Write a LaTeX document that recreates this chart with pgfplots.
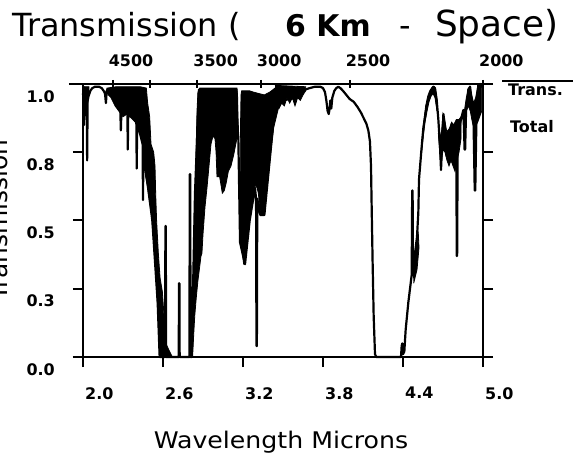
\documentclass[border=0pt]{standalone}
\usepackage{fontspec}
\setmainfont{DejaVu Sans}
\usepackage{graphicx}
\usepackage{pgfplots}
\pgfplotsset{compat=1.18}
\begin{document}
\begin{tikzpicture}
\begin{axis}[
  at={(0,0)}, anchor=south west,
  scale only axis, width=400bp, height=273bp,
  xmin=2, xmax=5, ymin=0, ymax=1,
  axis line style={line width=2bp},
  every tick/.style={black, line width=2bp},
  major tick length=10bp,
  tick align=outside,
  xtick={2,2.6,3.2,3.8,4.4,5},
  xticklabels={2.0,2.6,3.2,3.8,4.4,5.0},
  xtick pos=left,
  ytick={0,0.25,0.5,0.75,1},
  yticklabels={0.0,0.3,0.5,0.8,1.0},
  ytick pos=both, yticklabel pos=left,
  ticklabel style={font=\fontsize{16}{18}\selectfont\bfseries},
  xticklabel style={anchor=north west, inner sep=0pt, xshift=2bp, yshift=-20bp},
  yticklabel style={anchor=north east, inner sep=0pt, xshift=-18bp, yshift=-6bp},
  xlabel={\scalebox{1.1}[1]{Wavelength Microns}},
  xlabel style={at={(axis description cs:0.495,-0.335)}, anchor=base, inner sep=0pt, font=\fontsize{23}{26}\selectfont},
  ylabel={Transmission},
  ylabel style={at={(axis description cs:-0.188,0.502)}, anchor=base, inner sep=0pt, font=\fontsize{25}{28}\selectfont},
  clip=false,
]
% dense absorption regions (filled envelopes)
\addplot[fill=black, draw=black, line width=0.8bp] coordinates {
 (2.0,0.99) (2.045,0.99) (2.045,0.95) (2.035,0.93) (2.025,0.91) (2.015,0.90) (2.008,0.86) (2.0,0.90)};
\addplot[fill=black, draw=black, line width=0.8bp] coordinates {
 (2.17,0.965) (2.18,0.985) (2.25,0.99) (2.35,0.99) (2.43,0.99) (2.475,0.985)
 (2.485,0.93) (2.50,0.88) (2.51,0.78) (2.53,0.75) (2.54,0.70) (2.545,0.60) (2.552,0.50)
 (2.565,0.38) (2.578,0.29) (2.595,0.24) (2.605,0.17) (2.612,0.06) (2.64,0.03) (2.67,0.0)
 (2.575,0.0) (2.568,0.08) (2.56,0.18) (2.55,0.27) (2.54,0.35) (2.525,0.45) (2.515,0.52)
 (2.50,0.57) (2.485,0.62) (2.47,0.66) (2.455,0.72) (2.445,0.78) (2.43,0.82) (2.40,0.855)
 (2.37,0.875) (2.33,0.89) (2.30,0.88) (2.27,0.90) (2.24,0.92) (2.21,0.95) (2.19,0.96)};
\addplot[fill=black, draw=black, line width=0.8bp] coordinates {
 (2.812,0.0) (2.82,0.15) (2.826,0.30) (2.832,0.45) (2.84,0.60) (2.848,0.75) (2.855,0.90)
 (2.862,0.97) (2.875,0.985) (3.0,0.985) (3.10,0.985) (3.155,0.985) (3.16,0.95) (3.162,0.82)
 (3.15,0.79) (3.13,0.74) (3.11,0.70) (3.09,0.68) (3.075,0.64) (3.06,0.61) (3.045,0.60)
 (3.035,0.63) (3.025,0.66) (3.005,0.66) (2.998,0.75) (2.99,0.80) (2.975,0.81) (2.96,0.78)
 (2.945,0.70) (2.93,0.62) (2.915,0.55) (2.90,0.45) (2.892,0.38) (2.885,0.37) (2.875,0.33)
 (2.862,0.28) (2.85,0.22) (2.838,0.15) (2.83,0.08) (2.822,0.0)};
\addplot[fill=black, draw=black, line width=0.8bp] coordinates {
 (3.178,0.42) (3.18,0.80) (3.185,0.96) (3.19,0.975) (3.25,0.975) (3.28,0.97) (3.32,0.965)
 (3.36,0.96) (3.40,0.97) (3.44,0.985) (3.48,0.99) (3.50,0.99)
 (3.50,0.94) (3.47,0.92) (3.45,0.88) (3.43,0.84) (3.415,0.78) (3.40,0.71) (3.39,0.66)
 (3.375,0.60) (3.365,0.53) (3.35,0.52) (3.335,0.52) (3.325,0.55) (3.315,0.60) (3.305,0.62)
 (3.29,0.63) (3.275,0.58) (3.265,0.55) (3.25,0.50) (3.24,0.45) (3.225,0.40) (3.215,0.34)
 (3.205,0.34) (3.195,0.38) (3.185,0.40)};
\addplot[fill=black, draw=black, line width=0.8bp] coordinates {
 (3.44,0.995) (3.67,0.99) (3.67,0.975) (3.65,0.96) (3.63,0.94) (3.61,0.95) (3.59,0.92)
 (3.57,0.95) (3.55,0.93) (3.53,0.95) (3.51,0.92) (3.49,0.93) (3.47,0.91) (3.44,0.93)};
\addplot[fill=black, draw=black, line width=0.8bp] coordinates {
 (4.475,0.30) (4.49,0.37) (4.505,0.42) (4.515,0.45) (4.52,0.40) (4.505,0.32) (4.49,0.29) (4.48,0.27)};
\addplot[fill=black, draw=black, line width=0.8bp] coordinates {
 (4.54,0.78) (4.555,0.86) (4.57,0.92) (4.585,0.955) (4.60,0.975) (4.62,0.99) (4.635,0.99)
 (4.645,0.975) (4.655,0.94) (4.655,0.90) (4.64,0.95) (4.625,0.965) (4.61,0.955) (4.595,0.935)
 (4.58,0.90) (4.565,0.86) (4.55,0.80) (4.54,0.75)};
\addplot[fill=black, draw=black, line width=0.8bp] coordinates {
 (4.665,0.87) (4.675,0.80) (4.69,0.83) (4.70,0.89) (4.715,0.86) (4.73,0.82) (4.75,0.84)
 (4.765,0.86) (4.78,0.85) (4.80,0.87) (4.82,0.87) (4.835,0.88)
 (4.835,0.80) (4.82,0.75) (4.805,0.72) (4.79,0.68) (4.775,0.70) (4.76,0.72) (4.745,0.70)
 (4.73,0.72) (4.715,0.75) (4.70,0.76) (4.685,0.70) (4.675,0.75) (4.665,0.82)};
\addplot[fill=black, draw=black, line width=0.8bp] coordinates {
 (4.86,0.90) (4.875,0.95) (4.89,0.98) (4.90,0.99) (4.915,0.96) (4.93,0.93) (4.945,0.95)
 (4.96,0.99) (4.975,1.0) (4.99,0.99)
 (4.99,0.90) (4.975,0.88) (4.96,0.86) (4.95,0.85) (4.935,0.84) (4.92,0.86) (4.905,0.90)
 (4.89,0.92) (4.875,0.90) (4.86,0.86)};
% transmission trace
\addplot[black, line width=2.2bp, line join=round] coordinates {
 (2.000,0.96) (2.004,0.99) (2.008,0.85) (2.012,0.97) (2.028,0.95) (2.031,0.72) (2.035,0.95)
 (2.045,0.96) (2.055,0.975) (2.07,0.985) (2.09,0.99) (2.12,0.99) (2.14,0.985) (2.155,0.975)
 (2.165,0.965) (2.172,0.93) (2.178,0.975) (2.20,0.97) (2.28,0.90) (2.284,0.83) (2.288,0.90)
 (2.333,0.89) (2.336,0.76) (2.339,0.89) (2.400,0.86) (2.403,0.69) (2.406,0.86) (2.447,0.78)
 (2.450,0.575) (2.453,0.75) (2.48,0.65) (2.52,0.50) (2.56,0.20) (2.575,0.0) (2.616,0.0)
 (2.618,0.48) (2.621,0.48) (2.623,0.0) (2.718,0.0) (2.720,0.27) (2.723,0.27) (2.725,0.0)
 (2.798,0.0) (2.801,0.67) (2.804,0.67) (2.807,0.0) (2.815,0.0) (2.84,0.60) (2.87,0.98)
 (3.15,0.98) (3.162,0.82) (3.165,0.80) (3.178,0.42) (3.215,0.34) (3.25,0.50) (3.29,0.62)
 (3.298,0.58) (3.301,0.04) (3.304,0.04) (3.307,0.58) (3.33,0.52) (3.36,0.52) (3.40,0.72)
 (3.44,0.92) (3.50,0.94) (3.60,0.95) (3.67,0.98) (3.70,0.985) (3.74,0.99) (3.78,0.99)
 (3.80,0.985) (3.815,0.97) (3.825,0.94) (3.835,0.90) (3.843,0.89) (3.85,0.91) (3.855,0.94)
 (3.862,0.91) (3.87,0.95) (3.885,0.975) (3.90,0.985) (3.915,0.99) (3.93,0.985) (3.95,0.975)
 (3.975,0.96) (4.00,0.945) (4.03,0.935) (4.06,0.915) (4.085,0.895) (4.105,0.875)
 (4.125,0.855) (4.14,0.83) (4.152,0.79) (4.16,0.70) (4.165,0.55) (4.172,0.35) (4.18,0.15)
 (4.19,0.01) (4.20,0.0) (4.385,0.0) (4.39,0.04) (4.395,0.05) (4.40,0.01) (4.41,0.02)
 (4.42,0.10) (4.43,0.15) (4.44,0.20) (4.455,0.26) (4.465,0.30) (4.469,0.61) (4.472,0.61)
 (4.475,0.30) (4.49,0.38) (4.505,0.44) (4.515,0.53) (4.52,0.65) (4.54,0.77) (4.553,0.84)
 (4.578,0.92) (4.603,0.965) (4.628,0.99) (4.64,0.985) (4.653,0.94) (4.665,0.87) (4.678,0.77)
 (4.685,0.685) (4.695,0.80) (4.703,0.89) (4.715,0.845) (4.728,0.735) (4.74,0.83) (4.753,0.77)
 (4.765,0.855) (4.778,0.71) (4.79,0.83) (4.800,0.80) (4.803,0.37) (4.806,0.37) (4.81,0.78)
 (4.815,0.77) (4.828,0.855) (4.84,0.88) (4.853,0.905) (4.862,0.76) (4.866,0.76) (4.873,0.905)
 (4.89,0.98) (4.903,0.99) (4.915,0.94) (4.928,0.89) (4.938,0.61) (4.942,0.61) (4.953,0.94)
 (4.965,0.995) (4.978,1.0) (4.99,0.99) (5.0,0.99)};
\end{axis}
% top wavenumber axis (cm^-1)
\begin{axis}[
  at={(0,0)}, anchor=south west,
  scale only axis, width=400bp, height=273bp,
  xmin=2, xmax=5, ymin=0, ymax=1,
  axis x line*=top, hide y axis,
  axis line style={line width=2bp},
  every tick/.style={black, line width=2bp},
  major tick length=8bp, tick align=center,
  xtick={2.2222,2.5,2.8571,3.3333,4.0,5.0},
  xticklabels={4500,,3500,3000,2500,2000},
  xticklabel style={anchor=south west, inner sep=0pt, xshift=-4bp, yshift=13bp,
    font=\fontsize{16}{18}\selectfont\bfseries},
]
\end{axis}
% axis line overhangs
\draw[line width=2bp] (-14bp,273bp) -- (0bp,273bp);
\draw[line width=2bp] (400bp,273bp) -- (403bp,273bp);
\draw[line width=2bp] (-10bp,0bp) -- (0bp,0bp);
\draw[line width=2bp] (400bp,0bp) -- (404bp,0bp);
% legend-like key
\draw[line width=2bp] (419bp,276bp) -- (495bp,276bp);
\node[anchor=base west, inner sep=0pt, font=\fontsize{16}{18}\selectfont\bfseries] at (425bp,261bp) {Trans.};
\node[anchor=base west, inner sep=0pt, font=\fontsize{16}{18}\selectfont\bfseries] at (427bp,224bp) {Total};
% title
\node[anchor=base west, inner sep=0pt, font=\fontsize{32}{36}\selectfont] at (-71bp,320bp) {Transmission (};
\node[anchor=base west, inner sep=0pt, font=\fontsize{30}{34}\selectfont\bfseries] at (202bp,320bp) {6 Km};
\node[anchor=base west, inner sep=0pt, font=\fontsize{32}{36}\selectfont] at (316bp,320bp) {-};
\node[anchor=base west, inner sep=0pt, font=\fontsize{36}{40}\selectfont] at (352bp,320bp) {Space)};
\pgfresetboundingbox
\useasboundingbox (-83bp,-99bp) rectangle (490bp,357bp);
\end{tikzpicture}
\end{document}
